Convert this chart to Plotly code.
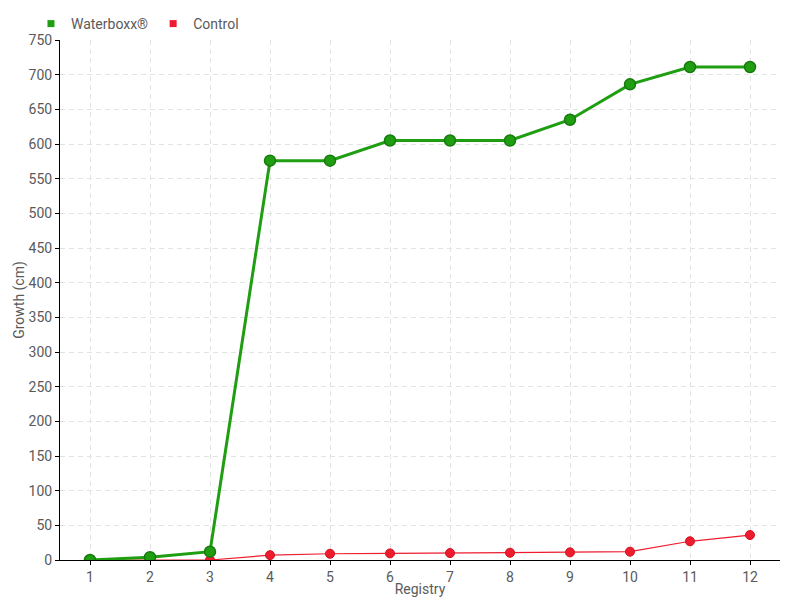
import plotly.graph_objects as go

registry = [str(i) for i in range(1, 13)]
waterboxx = [0, 4, 12, 576, 576, 605, 605, 605, 635, 686, 711, 711]
control = [0, 0, 0, 7, 9, 9.5, 10, 10.5, 11, 12, 27, 36]
y_ticks = list(range(0, 751, 50))

FONT = "Roboto, sans-serif"
GREEN = "#1f9e12"
RED = "#ee1c2e"
TXT = "#5a5a5a"

fig = go.Figure()
fig.add_trace(go.Scatter(x=registry, y=control, mode="lines+markers",
                         line=dict(color=RED, width=1.2),
                         marker=dict(color=RED, size=9, line=dict(color="#d0101f", width=1)),
                         showlegend=False, name="Control"))
fig.add_trace(go.Scatter(x=registry, y=waterboxx, mode="lines+markers",
                         line=dict(color=GREEN, width=3),
                         marker=dict(color=GREEN, size=11, line=dict(color="#177a0d", width=1.5)),
                         showlegend=False, name="Waterboxx®"))
fig.add_trace(go.Scatter(x=[None], y=[None], mode="markers", name="Waterboxx®",
                         marker=dict(color=GREEN, symbol="square", size=7)))
fig.add_trace(go.Scatter(x=[None], y=[None], mode="markers", name="Control",
                         marker=dict(color=RED, symbol="square", size=7)))

fig.update_layout(
    width=792, height=592,
    margin=dict(l=52, r=20, t=32, b=40, autoexpand=False),
    paper_bgcolor="white", plot_bgcolor="white",
    font=dict(family=FONT, size=14, color=TXT),
    legend=dict(orientation="h", x=0.029, xanchor="left", y=1.0, yanchor="top",
                xref="container", yref="container", bgcolor="rgba(0,0,0,0)",
                font=dict(size=14, color=TXT), itemwidth=30,
                tracegroupgap=0),
    xaxis=dict(type="category", categoryorder="array", categoryarray=registry,
               range=[-0.5, 11.5], showline=True, linecolor="black", linewidth=1,
               showgrid=True, gridcolor="#e3e3e3", griddash="5px,4px", gridwidth=1,
               ticks="outside", ticklen=4, tickcolor="black", automargin=False,
               title=dict(text="Registry", standoff=0, font=dict(size=14, color=TXT)),
               zeroline=False),
    yaxis=dict(range=[0, 750], tickvals=y_ticks, showline=True, linecolor="black", linewidth=1,
               showgrid=True, gridcolor="#e3e3e3", griddash="5px,4px", gridwidth=1,
               ticks="outside", ticklen=4, tickcolor="black", automargin=False,
               title=dict(text="Growth (cm)", standoff=0, font=dict(size=14, color=TXT)),
               zeroline=False),
)

fig.write_html("out.html")
